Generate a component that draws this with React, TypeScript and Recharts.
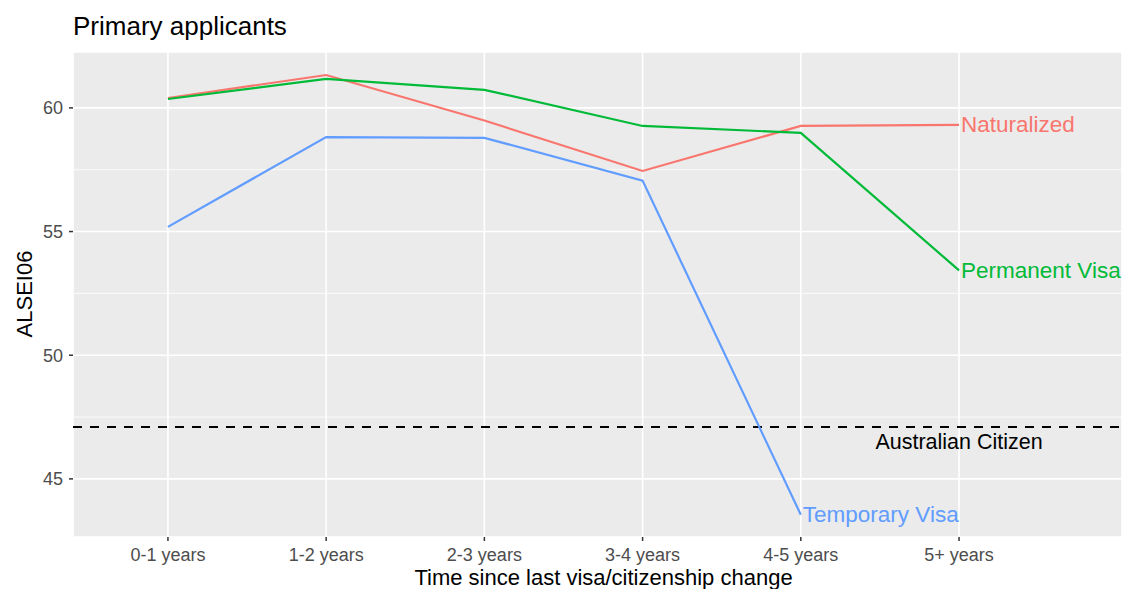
import React from "react";
import {
  LineChart,
  Line,
  XAxis,
  YAxis,
  CartesianGrid,
  ReferenceLine,
  ReferenceDot,
} from "recharts";

const categories = ["0-1 years", "1-2 years", "2-3 years", "3-4 years", "4-5 years", "5+ years"];
const naturalized = [60.4, 61.33, 59.49, 57.45, 59.27, 59.31];
const permanentVisa = [60.36, 61.17, 60.73, 59.27, 58.99, 53.43];
const temporaryVisa: (number | null)[] = [55.19, 58.82, 58.79, 57.06, 43.55, null];
const citizenLevel = 47.1;
const yTicks = [45, 50, 55, 60];
const yMinor = [47.5, 52.5, 57.5];

const COLORS = { nat: "#F8766D", perm: "#00BA38", temp: "#619CFF" };
const FONT = "'Liberation Sans', Arial, sans-serif";

const data = categories.map((c, i) => ({
  x: i + 1,
  naturalized: naturalized[i],
  permanent: permanentVisa[i],
  temporary: temporaryVisa[i],
}));

// label drawn to the right of the last point of a series
const endLabel = (text: string, color: string) => (props: any) => {
  const vb = props.viewBox || {};
  return (
    <text
      x={vb.x + 2}
      y={vb.y}
      fill={color}
      fontSize={22.5}
      fontFamily={FONT}
      dominantBaseline="central"
    >
      {text}
    </text>
  );
};

const lastIdx = (arr: (number | null)[]) => {
  let k = arr.length - 1;
  while (k > 0 && arr[k] == null) k--;
  return k;
};

export default function App() {
  const tIdx = lastIdx(temporaryVisa);
  return (
    <div style={{ position: "absolute", left: 0, top: 0, width: 1122, height: 589, background: "#fff" }}>
      <LineChart
        width={1122}
        height={589}
        data={data}
        margin={{ top: 52, right: 0, bottom: 0, left: 0 }}
        style={{ fontFamily: FONT }}
      >
        <CartesianGrid
          fill="#EBEBEB"
          stroke="#FFFFFF"
          strokeWidth={1.6}
          strokeDasharray=""
        />
        {yMinor.map((v) => (
          <ReferenceLine key={v} y={v} stroke="#FFFFFF" strokeWidth={0.8} />
        ))}
        <XAxis
          dataKey="x"
          type="number"
          domain={[0.4, 7.03]}
          ticks={[1, 2, 3, 4, 5, 6]}
          interval={0}
          allowDataOverflow
          tickFormatter={(v: number) => categories[v - 1] ?? ""}
          height={52}
          axisLine={false}
          tickSize={4}
          tickMargin={7}
          tickLine={{ stroke: "#333333", strokeWidth: 1.5 }}
          tick={{ fill: "#4D4D4D", fontSize: 18, fontFamily: FONT }}
          label={{
            content: (p: any) => {
              const vb = p.viewBox || {};
              return (
                <text
                  x={vb.x + vb.width / 2 + 6}
                  y={585}
                  textAnchor="middle"
                  fill="#000"
                  fontSize={22}
                  fontFamily={FONT}
                >
                  Time since last visa/citizenship change
                </text>
              );
            },
          }}
        />
        <YAxis
          type="number"
          domain={[42.65, 62.26]}
          ticks={yTicks}
          allowDataOverflow
          width={73}
          axisLine={false}
          tickSize={4}
          tickMargin={6}
          tickLine={{ stroke: "#333333", strokeWidth: 1.5 }}
          tick={{ fill: "#4D4D4D", fontSize: 18, fontFamily: FONT }}
          label={{
            content: () => (
              <text
                transform="rotate(-90)"
                x={-294}
                y={32}
                textAnchor="middle"
                fill="#000"
                fontSize={22}
                fontFamily={FONT}
              >
                ALSEI06
              </text>
            ),
          }}
        />
        <ReferenceLine
          y={citizenLevel}
          stroke="#000000"
          strokeWidth={2}
          strokeDasharray="9 8"
        />
        <Line
          dataKey="naturalized"
          stroke={COLORS.nat}
          strokeWidth={2.2}
          dot={false}
          isAnimationActive={false}
        />
        <Line
          dataKey="permanent"
          stroke={COLORS.perm}
          strokeWidth={2.2}
          dot={false}
          isAnimationActive={false}
        />
        <Line
          dataKey="temporary"
          stroke={COLORS.temp}
          strokeWidth={2.2}
          dot={false}
          isAnimationActive={false}
        />
        <ReferenceDot
          x={naturalized.length}
          y={naturalized[naturalized.length - 1]}
          r={0}
          fill="none"
          stroke="none"
          ifOverflow="visible"
          label={{ content: endLabel("Naturalized", COLORS.nat) }}
        />
        <ReferenceDot
          x={permanentVisa.length}
          y={permanentVisa[permanentVisa.length - 1]}
          r={0}
          fill="none"
          stroke="none"
          ifOverflow="visible"
          label={{ content: endLabel("Permanent Visa", COLORS.perm) }}
        />
        <ReferenceDot
          x={tIdx + 1}
          y={temporaryVisa[tIdx] as number}
          r={0}
          fill="none"
          stroke="none"
          ifOverflow="visible"
          label={{ content: endLabel("Temporary Visa", COLORS.temp) }}
        />
        <ReferenceDot
          x={6}
          y={46.49}
          r={0}
          fill="none"
          stroke="none"
          ifOverflow="visible"
          label={{
            content: (p: any) => {
              const vb = p.viewBox || {};
              return (
                <text
                  x={vb.x}
                  y={vb.y}
                  textAnchor="middle"
                  dominantBaseline="central"
                  fill="#000"
                  fontSize={21.5}
                  fontFamily={FONT}
                >
                  Australian Citizen
                </text>
              );
            },
          }}
        />
      </LineChart>
      <svg
        width={1122}
        height={52}
        style={{ position: "absolute", left: 0, top: 0, pointerEvents: "none" }}
      >
        <text x={73} y={35} fontSize={26} fontFamily={FONT} fill="#000">
          Primary applicants
        </text>
      </svg>
    </div>
  );
}
